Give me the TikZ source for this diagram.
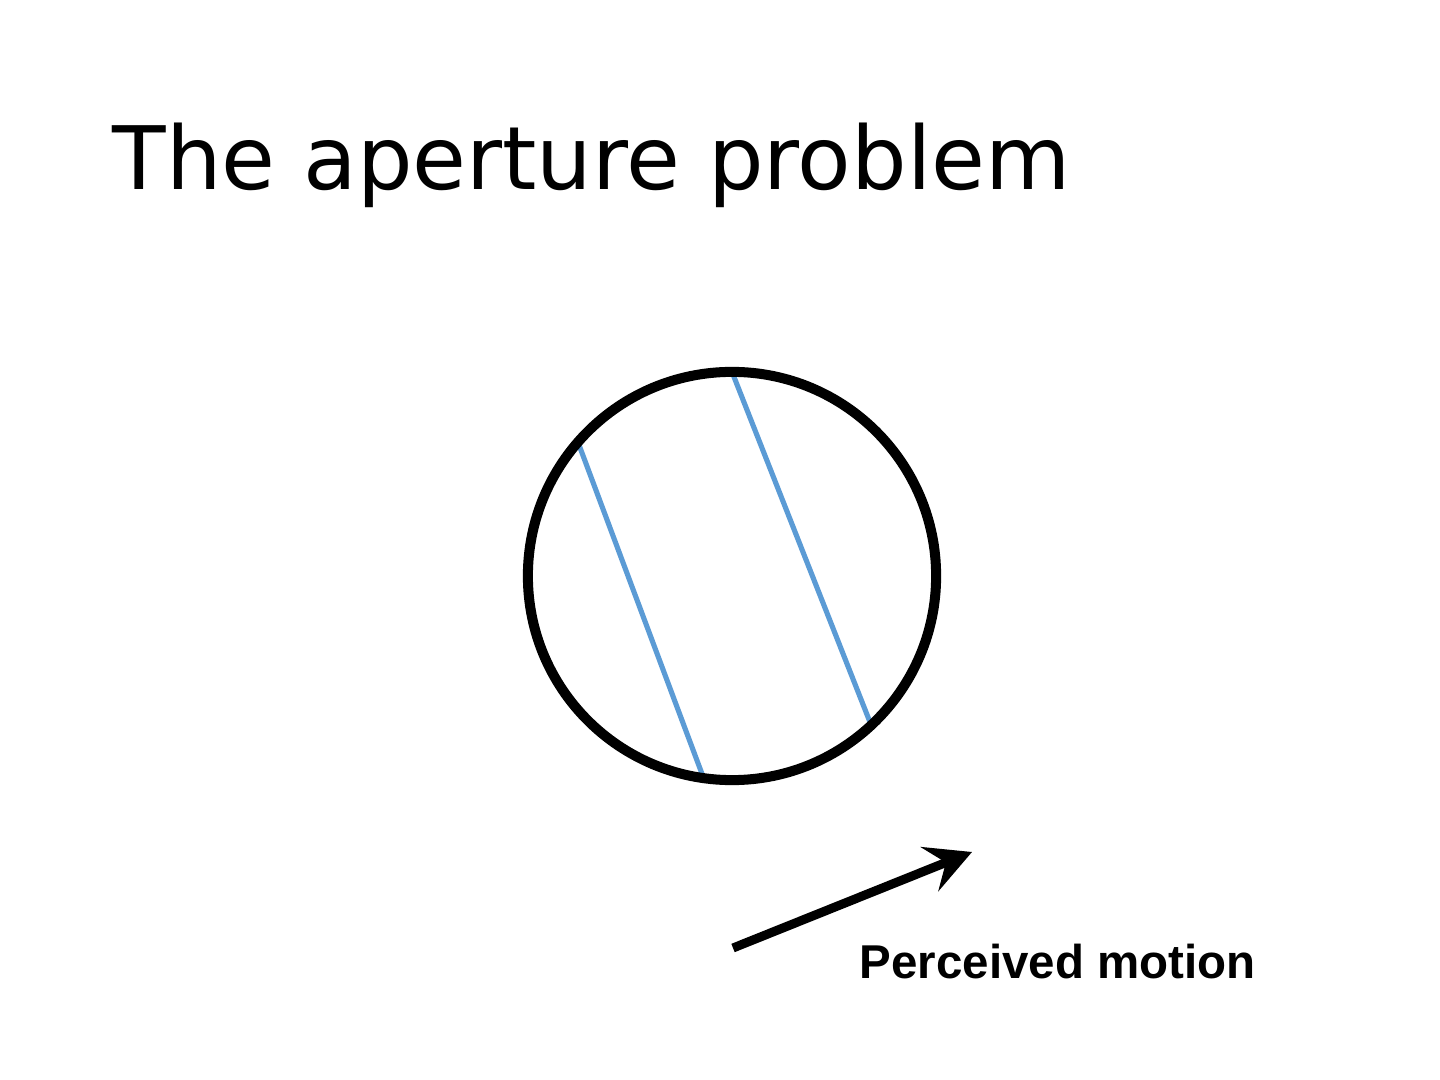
\documentclass[tikz,border=0pt]{standalone}
\usepackage{fontspec}
\usepackage{xcolor}
\usepackage{tikz}
\usetikzlibrary{arrows.meta,calc,positioning,backgrounds}

\newfontfamily\titlefont{DejaVu Sans}
\newfontfamily\labelfont{Liberation Sans}
\definecolor{barblue}{HTML}{5B9BD5}

\begin{document}
\begin{tikzpicture}[x=0.01cm, y=-0.01cm,
    ring/.style={circle, draw=black, line width=2.85pt, minimum size=4.08cm, inner sep=0pt, outer sep=0pt},
    bar/.style={draw=barblue, line width=1.45pt},
    motion/.style={line width=2.56pt, -{Stealth[length=13pt,width=13.5pt,inset=5pt]}}]
  \useasboundingbox (0,0) rectangle (1440,1080);
  \node [anchor=base west, inner sep=0pt] at (112,190) (title) {\titlefont\fontsize{24.9}{30}\selectfont The aperture problem};
  \node [ring] at (732,576) (aperture) {};
  \begin{pgfonlayer}{background}
    \fill [white] (0,0) rectangle (1440,1080);
    \draw [bar] (aperture.90) -- (aperture.-47);
    \draw [bar] (aperture.139) -- (aperture.-98);
  \end{pgfonlayer}
  \coordinate (from) at (733,948);
  \coordinate (to) at (972,852);
  \draw [motion] (from) -- (to);
  \node [anchor=base west, inner sep=0pt] at (859,978) (label) {\labelfont\bfseries\fontsize{13.5}{16}\selectfont Perceived motion};
\end{tikzpicture}
\end{document}
